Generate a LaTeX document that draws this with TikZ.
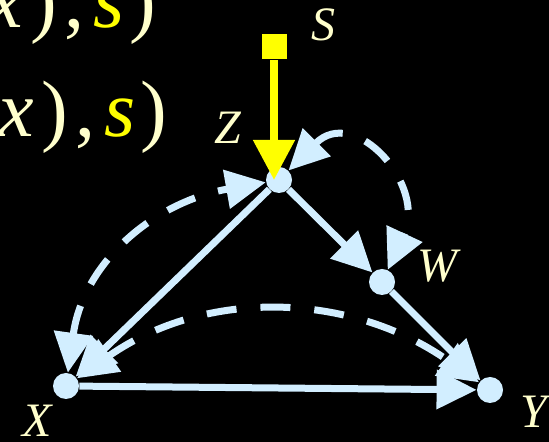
\documentclass[tikz,border=0pt]{standalone}
\usepackage{fontspec}
\setmainfont{Liberation Serif}
\usetikzlibrary{arrows.meta}
\definecolor{ltblue}{RGB}{210,238,255}
\definecolor{cream}{RGB}{255,255,204}
\definecolor{yel}{RGB}{255,255,0}
\newcommand{\bigtxt}{\textit{x}\hspace{4pt})\hspace{3.5pt},\hspace{4.5pt}\textit{\color{yel}s}\hspace{2.5pt})}

\begin{document}
\begin{tikzpicture}[x=0.5pt,y=0.5pt,
  dot/.style={circle, fill=ltblue, minimum size=13pt, inner sep=0pt},
  lab/.style={text=cream, font=\fontsize{24}{24}\selectfont\itshape, inner sep=0pt},
  big/.style={anchor=base west, text=cream, inner sep=0pt, font=\fontsize{40}{40}\selectfont},
  edge/.style={ltblue, line width=3.5pt, -{Triangle[length=20pt,width=19pt]}},
  conf/.style={ltblue, line width=3.5pt, dash pattern=on 15pt off 12pt,
    {Triangle[length=20pt,width=19pt]}-{Triangle[length=20pt,width=19pt]}}]
\useasboundingbox (0,0) rectangle (549,442);
\clip (0,0) rectangle (549,442);
\fill[black] (0,0) rectangle (549,442);

\node[big] (T1) at (-13,414) {\bigtxt};
\node[big] (T2) at (-2,305) {\bigtxt};

\node[dot] (Z) at (279,262) {};
\node[dot] (W) at (382,160) {};
\node[dot] (X) at (66,56) {};
\node[dot] (Y) at (490,52) {};
\node[fill=yel, minimum size=12.5pt, inner sep=0pt] (S) at (274,395) {};

\node[lab] (SL) at (323,417) {S};
\node[lab] (ZL) at (228,314) {Z};
\node[lab] (WL) at (437,176) {W};
\node[lab] (XL) at (37,21) {X};
\node[lab] (YL) at (534,30) {Y};

\draw[edge] (Z) -- (X);
\draw[edge] (Z) -- (W);
\draw[edge] (W) -- (Y);
\draw[edge] (X) -- (Y);
\draw[conf] (X) to[out=82,in=190,looseness=1.05] (Z);
\draw[conf] (Z) to[out=45,in=65,looseness=1.7] (W);
\draw[conf] (X) to[out=35,in=145] (Y);
\draw[yel, line width=4pt, -{Triangle[length=20pt,width=20pt]}] (S) -- (S |- Z.center);
\end{tikzpicture}
\end{document}
